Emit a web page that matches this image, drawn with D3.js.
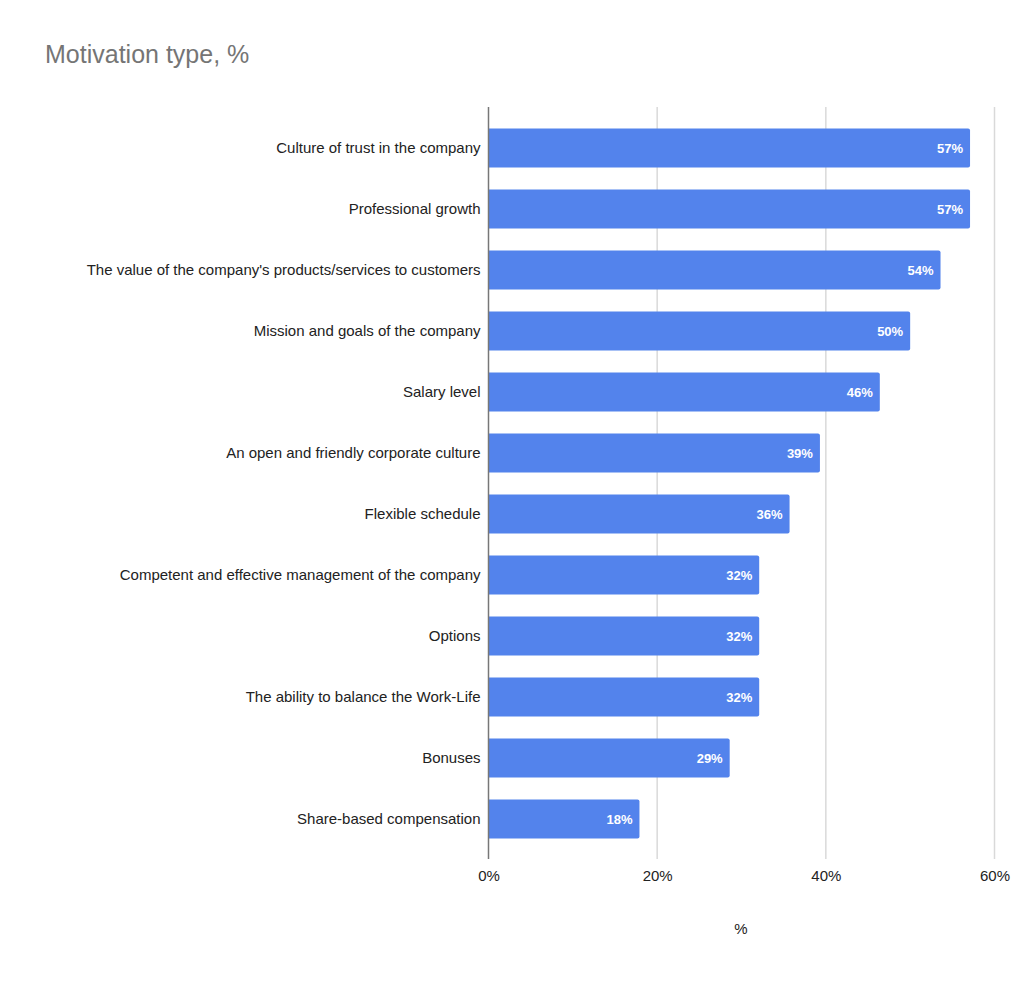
<!DOCTYPE html>
<html>
<head>
<meta charset="utf-8">
<script src="https://cdn.jsdelivr.net/npm/d3@7"></script>
<style>
  body { margin: 0; background: #fff; }
  svg { font-family: Arial, "Liberation Sans", sans-serif; }
</style>
</head>
<body>
<div id="chart"></div>
<script>
const width = 1024;
const height = 982;

const categories = [
  "Culture of trust in the company",
  "Professional growth",
  "The value of the company's products/services to customers",
  "Mission and goals of the company",
  "Salary level",
  "An open and friendly corporate culture",
  "Flexible schedule",
  "Competent and effective management of the company",
  "Options",
  "The ability to balance the Work-Life",
  "Bonuses",
  "Share-based compensation",
];
const values = [0.571, 0.571, 0.536, 0.5, 0.464, 0.393, 0.357, 0.321, 0.321, 0.321, 0.286, 0.179];
const xTicks = [0, 0.2, 0.4, 0.6];

const plot = { left: 488.5, right: 994.5, top: 107, bottom: 859 };

const svg = d3
  .select("#chart")
  .append("svg")
  .attr("width", width)
  .attr("height", height);

const x = d3.scaleLinear().domain([0, 0.6]).range([plot.left, plot.right]);

const y = d3
  .scaleBand()
  .domain(categories)
  .range([117.5, 849.5])
  .paddingInner(0.36)
  .paddingOuter(0.18);

// title
svg
  .append("text")
  .attr("x", 45)
  .attr("y", 63)
  .attr("fill", "#757575")
  .attr("font-size", 25)
  .text("Motivation type, %");

// gridlines
svg
  .append("g")
  .selectAll("line")
  .data(xTicks.slice(1))
  .enter()
  .append("line")
  .attr("x1", (d) => x(d))
  .attr("x2", (d) => x(d))
  .attr("y1", plot.top)
  .attr("y2", plot.bottom)
  .attr("stroke", "#d9d9d9")
  .attr("stroke-width", 1.5);

// x axis labels
const xAxis = d3
  .axisBottom(x)
  .tickValues(xTicks)
  .tickFormat(d3.format(".0%"))
  .tickSize(0)
  .tickPadding(0);

svg
  .append("g")
  .attr("transform", `translate(0,${plot.bottom + 11})`)
  .call(xAxis)
  .call((g) => g.select(".domain").remove())
  .call((g) =>
    g.selectAll("text")
      .attr("font-size", 15)
      .attr("fill", "#222")
      .attr("font-family", "Arial, 'Liberation Sans', sans-serif")
  );

// bars
const bars = svg.append("g");
bars
  .selectAll("path")
  .data(categories)
  .enter()
  .append("path")
  .attr("fill", "#5383ec")
  .attr("d", (d, i) => {
    const x0 = x(0);
    const x1 = x(values[i]);
    const y0 = y(d);
    const h = y.bandwidth();
    const r = 2;
    return `M${x0},${y0}H${x1 - r}Q${x1},${y0} ${x1},${y0 + r}V${y0 + h - r}Q${x1},${y0 + h} ${x1 - r},${y0 + h}H${x0}Z`;
  });

// value labels
bars
  .selectAll("text")
  .data(categories)
  .enter()
  .append("text")
  .attr("x", (d, i) => x(values[i]) - 7)
  .attr("y", (d) => y(d) + y.bandwidth() / 2)
  .attr("dy", "0.36em")
  .attr("text-anchor", "end")
  .attr("fill", "#fff")
  .attr("font-size", 13)
  .attr("font-weight", "bold")
  .text((d, i) => d3.format(".0%")(values[i]));

// y axis
const yAxis = d3.axisLeft(y).tickSize(0).tickPadding(8);
svg
  .append("g")
  .attr("transform", `translate(${plot.left},0)`)
  .call(yAxis)
  .call((g) => g.select(".domain").remove())
  .call((g) =>
    g.selectAll("text")
      .attr("font-size", 15)
      .attr("fill", "#222")
      .attr("font-family", "Arial, 'Liberation Sans', sans-serif")
  );

svg
  .append("line")
  .attr("x1", plot.left)
  .attr("x2", plot.left)
  .attr("y1", plot.top)
  .attr("y2", plot.bottom)
  .attr("stroke", "#777")
  .attr("stroke-width", 1.5);

// x axis title
svg
  .append("text")
  .attr("x", 741)
  .attr("y", 934)
  .attr("text-anchor", "middle")
  .attr("font-size", 15)
  .attr("fill", "#222")
  .text("%");
</script>
</body>
</html>
